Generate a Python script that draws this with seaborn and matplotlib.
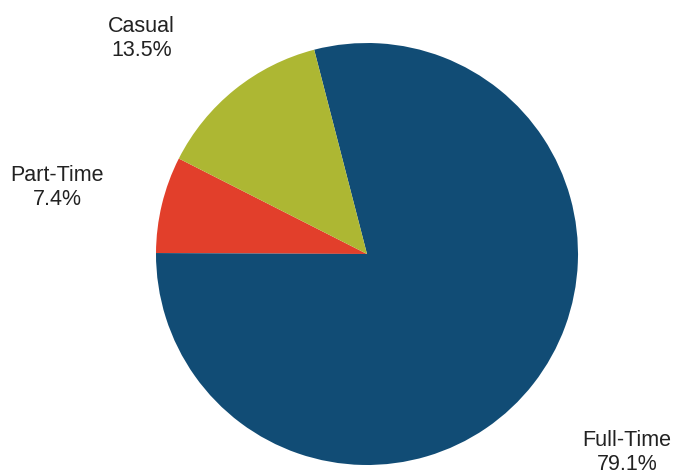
import matplotlib
matplotlib.use('Agg')
import matplotlib.pyplot as plt
import seaborn as sns

categories = ['Part-Time', 'Full-Time', 'Casual']
shares = [7.4, 79.1, 13.5]
colors = ['#E23F2B', '#114C75', '#ADB733']

sns.set_theme(style='white')
plt.rcParams['font.family'] = ['Liberation Sans', 'DejaVu Sans']

W, H = 683, 476
cx, cy, r = 367, 254, 211

fig = plt.figure(figsize=(W / 100, H / 100), dpi=100)
ax = fig.add_axes([0, 0, 1, 1])

labels = [f'{c}\n{v:.1f}%' for c, v in zip(categories, shares)]
wedges, texts = ax.pie(shares, labels=labels, colors=colors, startangle=153.1,
                       counterclock=True, labeldistance=1.5, radius=1,
                       wedgeprops=dict(linewidth=0),
                       textprops=dict(fontsize=15.5, color='#222222'))

# small nudges (px, y up) so labels sit where the original put them
nudge = {'Part-Time': (-2, -8), 'Full-Time': (10, -4), 'Casual': (-27, -31)}
for t, c in zip(texts, categories):
    t.set_ha('center')
    t.set_va('center')
    t.set_linespacing(1.22)
    x, y = t.get_position()
    dx, dy = nudge[c]
    t.set_position((x + dx / r, y + dy / r))

ax.set_xlim(-cx / r, (W - cx) / r)
ax.set_ylim(-(H - cy) / r, cy / r)
ax.set_aspect('auto')
ax.axis('off')

fig.savefig('out.png', dpi=100)
